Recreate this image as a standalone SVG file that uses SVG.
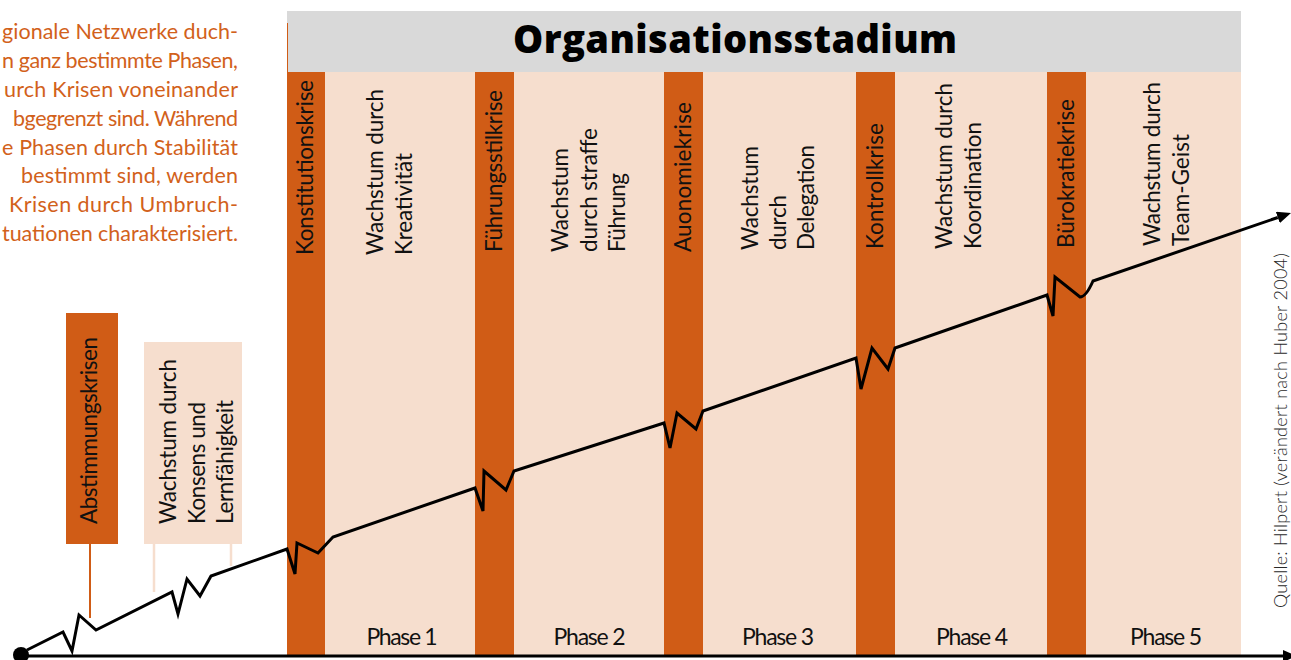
<svg xmlns="http://www.w3.org/2000/svg" width="1291" height="660" viewBox="0 0 1291 660">
<defs>
<style>
.crisis{fill:#D05C16}
.phasebg{fill:#F6DECE}
.vt{font-family:Lato,"Liberation Sans",sans-serif;font-size:22.5px;fill:#111}
.para{font-family:Lato,"Liberation Sans",sans-serif;font-size:21.5px;fill:#D2611B;text-anchor:end}
.ph{font-family:Lato,"Liberation Sans",sans-serif;font-size:23px;fill:#111;text-anchor:middle}
.line{fill:none;stroke:#000;stroke-width:3;stroke-linejoin:miter}
</style>
<marker id="arr" markerUnits="userSpaceOnUse" viewBox="0 0 14 12" refX="0" refY="6" markerWidth="14" markerHeight="12" orient="auto">
<path d="M0,0 L14,6 L0,12 z" fill="#000"/>
</marker>
</defs>
<rect width="1291" height="660" fill="#fff"/>

<g id="intro-text">
<text class="para" x="238" y="39.3" textLength="236">gionale Netzwerke duch-</text>
<text class="para" x="238" y="68.1" textLength="236">n ganz bestimmte Phasen,</text>
<text class="para" x="238" y="96.9" textLength="234">urch Krisen voneinander</text>
<text class="para" x="238" y="125.7" textLength="225">bgegrenzt sind. Während</text>
<text class="para" x="238" y="154.5" textLength="236">e Phasen durch Stabilität</text>
<text class="para" x="238" y="183.3" textLength="217">bestimmt sind, werden</text>
<text class="para" x="238" y="212.1" textLength="229">Krisen durch Umbruch-</text>
<text class="para" x="238" y="240.9" textLength="236">tuationen charakterisiert.</text>
</g>

<g id="phase-background">
<rect class="phasebg" x="287" y="72" width="954" height="584"/>
</g>

<g id="header">
<rect x="287" y="11" width="954" height="61" fill="#D9D9D9"/>
<line x1="287.5" y1="23" x2="287.5" y2="72" stroke="#D05C16" stroke-width="1"/>
<text x="735" y="53" text-anchor="middle" textLength="444" font-family="'Open Sans',Lato,'Liberation Sans',sans-serif" font-weight="800" font-size="38" fill="#000">Organisationsstadium</text>
</g>

<g id="crisis-0">
<rect class="crisis" x="66" y="313" width="52" height="231"/>
<text class="vt" transform="translate(97,524) rotate(-90)" textLength="187">Abstimmungskrisen</text>
</g>
<g id="growth-0">
<rect class="phasebg" x="144" y="342" width="98" height="202"/>
<text class="vt" transform="translate(176,524) rotate(-90)" textLength="165">Wachstum durch</text>
<text class="vt" transform="translate(205,524) rotate(-90)" textLength="122">Konsens und</text>
<text class="vt" transform="translate(233,524) rotate(-90)" textLength="124">Lernfähigkeit</text>
</g>

<g id="crisis-1">
<rect class="crisis" x="287" y="72" width="38" height="584"/>
<text class="vt" transform="translate(313,255) rotate(-90)" textLength="175">Konstitutionskrise</text>
</g>
<g id="phase-1">
<text class="vt" transform="translate(383,255) rotate(-90)" textLength="166">Wachstum durch</text>
<text class="vt" transform="translate(412,255) rotate(-90)" textLength="102">Kreativität</text>
<text class="ph" x="402" y="645" textLength="71">Phase 1</text>
</g>

<g id="crisis-2">
<rect class="crisis" x="475" y="72" width="39" height="584"/>
<text class="vt" transform="translate(502,252) rotate(-90)" textLength="162">Führungsstilkrise</text>
</g>
<g id="phase-2">
<text class="vt" transform="translate(568,252) rotate(-90)" textLength="104">Wachstum</text>
<text class="vt" transform="translate(597,252) rotate(-90)" textLength="124">durch straffe</text>
<text class="vt" transform="translate(625,252) rotate(-90)" textLength="79">Führung</text>
<text class="ph" x="589.5" y="645" textLength="72">Phase 2</text>
</g>

<g id="crisis-3">
<rect class="crisis" x="664" y="72" width="39" height="584"/>
<text class="vt" transform="translate(691,252) rotate(-90)" textLength="150">Auonomiekrise</text>
</g>
<g id="phase-3">
<text class="vt" transform="translate(758,250) rotate(-90)" textLength="104">Wachstum</text>
<text class="vt" transform="translate(786,250) rotate(-90)" textLength="55">durch</text>
<text class="vt" transform="translate(814,250) rotate(-90)" textLength="105">Delegation</text>
<text class="ph" x="778" y="645" textLength="72">Phase 3</text>
</g>

<g id="crisis-4">
<rect class="crisis" x="856" y="72" width="39" height="584"/>
<text class="vt" transform="translate(883,249) rotate(-90)" textLength="126">Kontrollkrise</text>
</g>
<g id="phase-4">
<text class="vt" transform="translate(952,249) rotate(-90)" textLength="166">Wachstum durch</text>
<text class="vt" transform="translate(981,249) rotate(-90)" textLength="127">Koordination</text>
<text class="ph" x="972" y="645" textLength="72">Phase 4</text>
</g>

<g id="crisis-5">
<rect class="crisis" x="1047" y="72" width="39" height="584"/>
<text class="vt" transform="translate(1074,248) rotate(-90)" textLength="149">Bürokratiekrise</text>
</g>
<g id="phase-5">
<text class="vt" transform="translate(1160,246) rotate(-90)" textLength="164">Wachstum durch</text>
<text class="vt" transform="translate(1189,246) rotate(-90)" textLength="112">Team-Geist</text>
<text class="ph" x="1166" y="645" textLength="72">Phase 5</text>
</g>

<g id="source">
<text transform="translate(1287,608) rotate(-90)" textLength="355" font-family="Lato,'Liberation Sans',sans-serif" font-weight="300" font-size="18" fill="#2a2a2a">Quelle: Hilpert (verändert nach Huber 2004)</text>
</g>

<g id="connectors">
<line x1="90" y1="544" x2="90" y2="618" stroke="#D05C16" stroke-width="2"/>
<line x1="154" y1="544" x2="154" y2="592" stroke="#F6DECE" stroke-width="2.5"/>
<line x1="231" y1="544" x2="231" y2="566" stroke="#F6DECE" stroke-width="2.5"/>
<line x1="21" y1="656" x2="1283" y2="656" stroke="#000" stroke-width="3" marker-end="url(#arr)"/>
<path class="line" marker-end="url(#arr)" d="M27,650 L63,632 L72,651 L79,615 L96,630 L172,592 L178,614 L187,579 L200,596 L211,576 L287,549 L295,574 L297,543 L318,553 L333,537 L475,488 L483,511 L484,471 L506,490 L514,471 L664,423 L670,448 L677,413 L696,429 L703,411 L856,358 L861,389 L872,348 L888,369 L895,348 L1047,295 L1053,316 L1055,277 L1080,297 Q1086,297 1093,281 L1277.8,217.5"/>
<circle cx="21" cy="655" r="8" fill="#000"/>
</g>
</svg>
